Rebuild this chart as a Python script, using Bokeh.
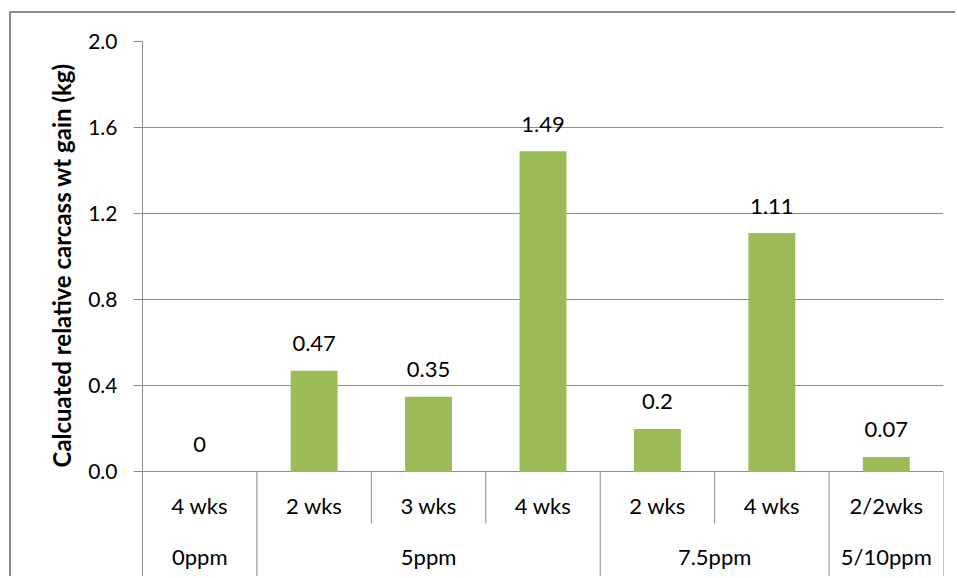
import math
from bokeh.plotting import figure
from bokeh.models import Range1d, FixedTicker, NumeralTickFormatter, ColumnDataSource, Title
from bokeh.core.properties import value
from bokeh.embed import file_html
from bokeh.resources import INLINE

# ---- data ----
groups = ["0ppm", "5ppm", "5ppm", "5ppm", "7.5ppm", "7.5ppm", "5/10ppm"]
durations = ["4 wks", "2 wks", "3 wks", "4 wks", "2 wks", "4 wks", "2/2wks"]
gains = [0.0, 0.47, 0.35, 1.49, 0.2, 1.11, 0.07]
gain_labels = ["0", "0.47", "0.35", "1.49", "0.2", "1.11", "0.07"]
y_ticks = [0.0, 0.4, 0.8, 1.2, 1.6, 2.0]
y_title = "Calcuated relative carcass wt gain (kg)"

FONT = "Lato"
GRID = "#8c8c8c"
BAR = "#9BBB59"

n = len(durations)
xs = [i + 0.5 for i in range(n)]

# group spans
spans = []
start = 0
for i in range(1, n + 1):
    if i == n or groups[i] != groups[start]:
        spans.append((groups[start], start, i))
        start = i

Y_SUB = -0.156
Y_GRP = -0.393
Y_SHORT = -0.239
Y_MIN = -0.4948

p = figure(width=946, height=565, x_range=Range1d(0, n), y_range=Range1d(Y_MIN, 2.0),
           output_backend="svg", toolbar_location=None, x_axis_location=None,
           min_border_left=131, min_border_right=14, min_border_top=28, min_border_bottom=0,
           outline_line_color=None, background_fill_color="white", border_fill_color="white",
           styles={"margin-left": "9px", "margin-top": "11px",
                   "border-left": "2px solid #8c8c8c", "border-top": "2px solid #8c8c8c"})

p.xgrid.visible = False
p.ygrid.ticker = FixedTicker(ticks=y_ticks)
p.ygrid.grid_line_color = GRID
p.ygrid.grid_line_width = 1

ax = p.yaxis[0]
ax.ticker = FixedTicker(ticks=y_ticks)
ax.formatter = NumeralTickFormatter(format="0.0")
ax.axis_line_color = GRID
ax.major_tick_line_color = GRID
ax.major_tick_in = 0
ax.major_tick_out = 9
ax.minor_tick_line_color = None
ax.major_label_text_font = FONT
ax.major_label_text_font_size = "21px"
ax.major_label_text_color = "black"
ax.major_label_standoff = 16

# bars
src = ColumnDataSource(dict(x=xs, top=gains, lab=gain_labels))
p.vbar(x="x", top="top", width=0.41, source=src, fill_color=BAR, line_color=None)
p.text(x="x", y="top", text="lab", source=src, text_align="center", text_baseline="middle",
       y_offset=-27, text_font=value(FONT), text_font_size="22px", text_color="black")

# category table separators
full_x = [0] + [e for (_, s, e) in spans]
short_x = [i for i in range(1, n) if i not in full_x]
p.segment(x0=full_x, y0=[0] * len(full_x), x1=full_x, y1=[Y_MIN] * len(full_x),
          line_color=GRID, line_width=1)
p.segment(x0=short_x, y0=[0] * len(short_x), x1=short_x, y1=[Y_SHORT] * len(short_x),
          line_color=GRID, line_width=1)

# sub labels
p.text(x=xs, y=[Y_SUB] * n, text=durations, text_align="center", text_baseline="middle",
       text_font=value(FONT), text_font_size="22px", text_color="black")
# group labels
p.text(x=[(s + e) / 2 for (_, s, e) in spans], y=[Y_GRP] * len(spans),
       text=[g for (g, _, _) in spans], text_align="center", text_baseline="middle",
       text_font=value(FONT), text_font_size="22px", text_color="black")

# y title
p.add_layout(Title(text=y_title, align="left", offset=111, standoff=20,
                   text_font=FONT, text_font_style="bold", text_font_size="24px",
                   text_color="black"), "left")

open("out.html", "w").write(file_html(p, INLINE))
